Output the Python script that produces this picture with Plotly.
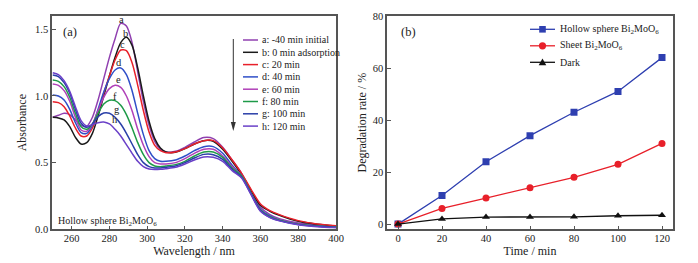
import plotly.graph_objects as go

# ---------------- data: panel (a) UV-vis spectra ----------------
wavelength = [250, 253, 256, 259, 262, 265, 268, 271, 274, 277, 280, 283, 286, 289, 292, 295, 298,
              301, 304, 307, 310, 315, 320, 325, 330, 335, 340, 345, 350, 355, 360, 365, 370, 380, 390, 400]

abs_a = [0.84, 0.855, 0.87, 0.86, 0.82, 0.78, 0.772, 0.84, 0.97, 1.13, 1.29, 1.43, 1.545, 1.525, 1.40, 1.18, 0.96,
         0.78, 0.66, 0.60, 0.58, 0.585, 0.615, 0.655, 0.688, 0.68, 0.615, 0.52, 0.42, 0.29, 0.165, 0.11, 0.08, 0.047, 0.032, 0.022]
abs_b = [0.84, 0.835, 0.82, 0.77, 0.69, 0.64, 0.65, 0.72, 0.85, 1.00, 1.15, 1.29, 1.40, 1.44, 1.38, 1.21, 1.00,
         0.81, 0.68, 0.61, 0.58, 0.578, 0.605, 0.64, 0.665, 0.66, 0.60, 0.51, 0.41, 0.29, 0.18, 0.135, 0.105, 0.06, 0.038, 0.025]
abs_c = [0.957, 0.95, 0.92, 0.85, 0.76, 0.70, 0.70, 0.76, 0.88, 1.02, 1.15, 1.27, 1.345, 1.34, 1.25, 1.08, 0.89,
         0.73, 0.63, 0.59, 0.575, 0.58, 0.605, 0.64, 0.665, 0.665, 0.61, 0.52, 0.42, 0.30, 0.19, 0.14, 0.11, 0.065, 0.04, 0.027]
abs_d = [1.007, 1.00, 0.97, 0.90, 0.80, 0.725, 0.72, 0.78, 0.90, 1.03, 1.13, 1.195, 1.21, 1.16, 1.04, 0.87, 0.71,
         0.59, 0.53, 0.51, 0.51, 0.52, 0.55, 0.59, 0.62, 0.62, 0.57, 0.48, 0.40, 0.27, 0.15, 0.10, 0.07, 0.04, 0.025, 0.015]
abs_e = [1.09, 1.08, 1.04, 0.96, 0.84, 0.745, 0.735, 0.79, 0.89, 0.99, 1.055, 1.08, 1.065, 1.00, 0.89, 0.75, 0.63,
         0.545, 0.50, 0.49, 0.49, 0.50, 0.53, 0.57, 0.60, 0.60, 0.55, 0.47, 0.40, 0.27, 0.145, 0.095, 0.07, 0.04, 0.025, 0.015]
abs_f = [1.12, 1.11, 1.07, 0.99, 0.87, 0.77, 0.75, 0.79, 0.87, 0.94, 0.968, 0.965, 0.93, 0.86, 0.76, 0.65, 0.56,
         0.50, 0.475, 0.47, 0.475, 0.485, 0.51, 0.55, 0.58, 0.58, 0.54, 0.46, 0.40, 0.27, 0.145, 0.095, 0.068, 0.038, 0.024, 0.015]
abs_g = [1.157, 1.145, 1.10, 1.02, 0.90, 0.795, 0.765, 0.79, 0.845, 0.872, 0.87, 0.84, 0.79, 0.72, 0.64, 0.56, 0.50,
         0.47, 0.46, 0.46, 0.465, 0.475, 0.50, 0.535, 0.562, 0.56, 0.525, 0.45, 0.39, 0.265, 0.14, 0.09, 0.065, 0.035, 0.022, 0.014]
abs_h = [1.175, 1.16, 1.115, 1.035, 0.92, 0.815, 0.775, 0.785, 0.80, 0.805, 0.79, 0.75, 0.70, 0.635, 0.57, 0.51, 0.47,
         0.452, 0.448, 0.45, 0.455, 0.465, 0.49, 0.52, 0.543, 0.54, 0.51, 0.44, 0.385, 0.26, 0.135, 0.088, 0.063, 0.034, 0.02, 0.013]

spectra_names = ["a: -40 min initial", "b: 0 min adsorption", "c: 20 min", "d: 40 min",
                 "e: 60 min", "f: 80 min", "g: 100 min", "h: 120 min"]
spectra = [abs_a, abs_b, abs_c, abs_d, abs_e, abs_f, abs_g, abs_h]
curve_letters = ["a", "b", "c", "d", "e", "f", "g", "h"]
letter_x = [286.4, 288.5, 287.0, 285.2, 284.8, 282.8, 284.0, 282.8]
letter_y = [1.575, 1.47, 1.385, 1.25, 1.12, 0.995, 0.90, 0.82]

# ---------------- data: panel (b) degradation ----------------
time_min = [0, 20, 40, 60, 80, 100, 120]
hollow_rate = [0, 11.0, 24.0, 34.0, 43.0, 51.0, 64.0]
sheet_rate = [0, 6.0, 10.0, 14.0, 18.0, 23.0, 31.0]
dark_rate = [0, 2.0, 2.7, 2.7, 2.8, 3.2, 3.4]

# ---------------- styles ----------------
spec_colors = ["#9040B0", "#1a1a1a", "#E8202A", "#2F4FC8", "#B040B8", "#1E9A48", "#2A3FA8", "#6A40C8"]
FONT = "Liberation Serif, Times New Roman, serif"
W, H = 698, 263


def px(x):
    return x / W


def py(y):
    return 1 - y / H


fig = go.Figure()

for name, vals, col in zip(spectra_names, spectra, spec_colors):
    fig.add_trace(go.Scatter(x=wavelength, y=vals, mode="lines", name=name,
                             line=dict(color=col, width=1.5, shape="spline", smoothing=0.8),
                             xaxis="x", yaxis="y", showlegend=False))

rate_series = [
    ("Hollow sphere Bi<sub>2</sub>MoO<sub>6</sub>", hollow_rate, "#2E3FB0", "square"),
    ("Sheet Bi<sub>2</sub>MoO<sub>6</sub>", sheet_rate, "#E8202A", "circle"),
    ("Dark", dark_rate, "#111111", "triangle-up"),
]
for name, vals, col, sym in rate_series:
    fig.add_trace(go.Scatter(x=time_min, y=vals, mode="lines+markers", name=name,
                             line=dict(color=col, width=1.3),
                             marker=dict(color=col, symbol=sym, size=7),
                             xaxis="x2", yaxis="y2", showlegend=False))

axis_common = dict(showline=True, linecolor="#555555", linewidth=1.5, mirror=True,
                   ticks="inside", ticklen=4, tickwidth=1, tickcolor="#555555",
                   showgrid=False, zeroline=False,
                   tickfont=dict(family=FONT, size=10.5, color="#222"),
                   title_font=dict(family=FONT, size=12, color="#222"), automargin=False)

ydom = [(H - 229.3) / H, (H - 16) / H]

fig.update_layout(
    width=W, height=H,
    margin=dict(l=0, r=0, t=0, b=0),
    paper_bgcolor="white", plot_bgcolor="white",
    font=dict(family=FONT, color="#222"),
    xaxis=dict(domain=[px(52), px(336)], range=[249.6, 400], anchor="y",
               tickvals=[260, 280, 300, 320, 340, 360, 380, 400], ticklabelstandoff=-2,
               title=dict(text="Wavelength / nm", standoff=0), **axis_common),
    yaxis=dict(domain=ydom, range=[0, 1.6], anchor="x",
               tickvals=[0, 0.5, 1.0, 1.5], tickformat=".1f",
               title=dict(text="Absorbance", standoff=6), **axis_common),
    xaxis2=dict(domain=[px(387), px(673)], range=[-5, 125], anchor="y2",
                tickvals=[0, 20, 40, 60, 80, 100, 120], ticklabelstandoff=-2,
                title=dict(text="Time / min", standoff=0), **axis_common),
    yaxis2=dict(domain=ydom, range=[-2, 80], anchor="x2",
                tickvals=[0, 20, 40, 60, 80],
                title=dict(text="Degradation rate / %", standoff=3), **axis_common),
)

annotations = []
shapes = []

# curve letters
for t, lx, ly in zip(curve_letters, letter_x, letter_y):
    annotations.append(dict(x=lx, y=ly, xref="x", yref="y", text=t, showarrow=False,
                            font=dict(family=FONT, size=10.5, color="#222"), yanchor="middle"))

# panel labels
annotations.append(dict(x=px(61), y=py(31.7), xref="paper", yref="paper", text="(a)", showarrow=False,
                        xanchor="left", yanchor="middle", font=dict(family=FONT, size=12.5, color="#222")))
annotations.append(dict(x=px(399), y=py(32.3), xref="paper", yref="paper", text="(b)", showarrow=False,
                        xanchor="left", yanchor="middle", font=dict(family=FONT, size=12.5, color="#222")))
annotations.append(dict(x=px(56), y=py(221), xref="paper", yref="paper",
                        text="Hollow sphere Bi<sub>2</sub>MoO<sub>6</sub>", showarrow=False,
                        xanchor="left", yanchor="middle", font=dict(family=FONT, size=10, color="#222")))

# arrow in panel (a): shaft + head as shapes
shapes.append(dict(type="line", xref="paper", yref="paper", x0=px(233.3), x1=px(233.3),
                   y0=py(39), y1=py(124), line=dict(color="#333", width=1)))
shapes.append(dict(type="path", xref="paper", yref="paper",
                   path="M {:.5f} {:.5f} L {:.5f} {:.5f} L {:.5f} {:.5f} Z".format(
                       px(230.8), py(122), px(235.8), py(122), px(233.3), py(131)),
                   fillcolor="#333", line=dict(width=0)))

# manual legend panel (a)
for i, (name, col) in enumerate(zip(spectra_names, spec_colors)):
    yy = 40 + 12.3 * i
    shapes.append(dict(type="line", xref="paper", yref="paper", x0=px(243), x1=px(258),
                       y0=py(yy), y1=py(yy), line=dict(color=col, width=1.5)))
    annotations.append(dict(x=px(259.5), y=py(yy), xref="paper", yref="paper", text=name, showarrow=False,
                            xanchor="left", yanchor="middle", font=dict(family=FONT, size=10, color="#222")))

# manual legend panel (b)
for i, (name, vals, col, sym) in enumerate(rate_series):
    yy = 29.3 + 16.5 * i
    shapes.append(dict(type="line", xref="paper", yref="paper", x0=px(530), x1=px(555),
                       y0=py(yy), y1=py(yy), line=dict(color=col, width=1.3)))
    cx = 542.5
    r = 3.3
    if sym == "square":
        shapes.append(dict(type="rect", xref="paper", yref="paper", x0=px(cx - r), x1=px(cx + r),
                           y0=py(yy + r), y1=py(yy - r), fillcolor=col, line=dict(width=0)))
    elif sym == "circle":
        shapes.append(dict(type="circle", xref="paper", yref="paper", x0=px(cx - r - 0.3), x1=px(cx + r + 0.3),
                           y0=py(yy + r + 0.3), y1=py(yy - r - 0.3), fillcolor=col, line=dict(width=0)))
    else:
        path = "M {:.5f} {:.5f} L {:.5f} {:.5f} L {:.5f} {:.5f} Z".format(
            px(cx - 3.8), py(yy + 3), px(cx + 3.8), py(yy + 3), px(cx), py(yy - 3.8))
        shapes.append(dict(type="path", xref="paper", yref="paper", path=path, fillcolor=col, line=dict(width=0)))
    annotations.append(dict(x=px(558), y=py(yy), xref="paper", yref="paper", text=name, showarrow=False,
                            xanchor="left", yanchor="middle", font=dict(family=FONT, size=10, color="#222")))

fig.update_layout(annotations=annotations, shapes=shapes)

fig.write_html("out.html", config={"displayModeBar": False},
               post_script="document.body.style.margin='0';document.body.style.overflow='hidden';")
